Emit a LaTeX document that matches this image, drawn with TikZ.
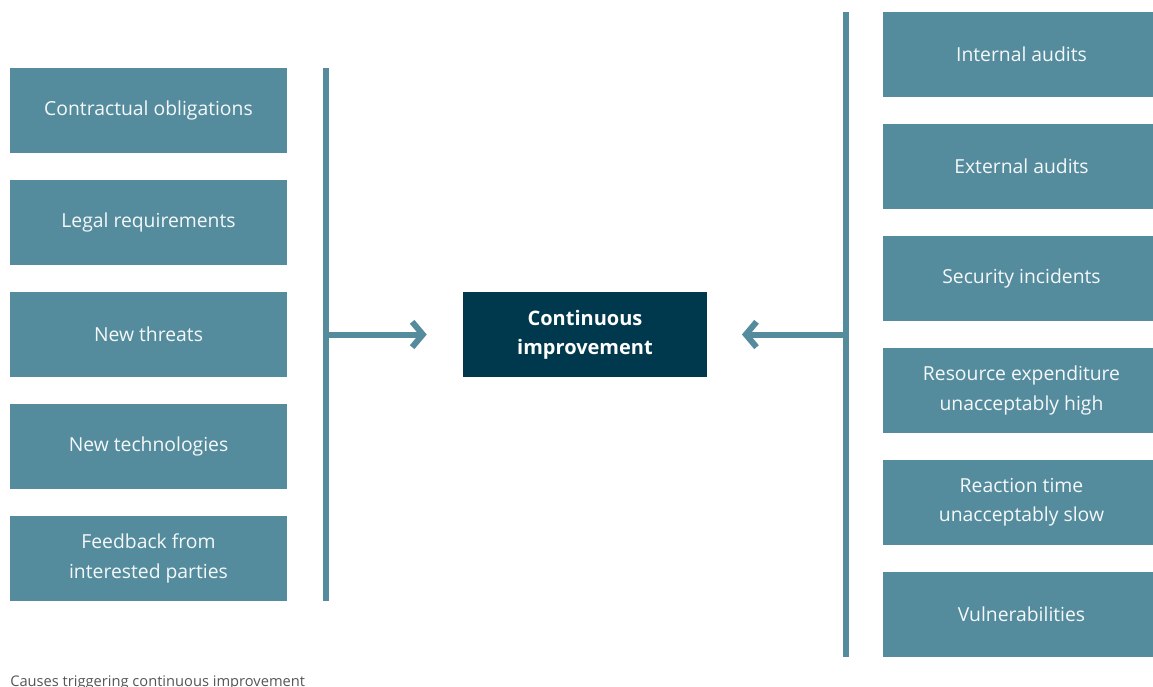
\documentclass[tikz,border=0pt]{standalone}
\usepackage{fontspec}
\setmainfont{Open Sans}
\usetikzlibrary{arrows.meta}
\definecolor{boxteal}{HTML}{548C9E}
\definecolor{navy}{HTML}{00384D}
\definecolor{captiongray}{HTML}{555555}
\tikzset{
  cause/.style={fill=boxteal,text=white!94!boxteal,minimum width=207.75pt,
    minimum height=63.75pt,align=center,inner sep=0pt,
    font=\fontsize{14.5}{22}\selectfont},
  goal/.style={fill=navy,text=white,minimum width=183pt,minimum height=63.75pt,
    align=center,inner sep=0pt,font=\fontsize{15}{22}\selectfont\bfseries},
  bar/.style={draw=boxteal,line width=4.5pt},
  feed/.style={draw=boxteal,line width=4.5pt,
    -{Straight Barb[length=8pt,width=19pt,line width=4.5pt]}}
}
\begin{document}
\begin{tikzpicture}[x=0.75pt,y=-0.75pt]
  \useasboundingbox (0,0) rectangle (1153,686);
  % left causes
  \foreach \i/\txt in {1/Contractual obligations,2/Legal requirements,
    3/New threats,4/New technologies,5/{Feedback from\\interested parties}}
    \node[cause] (l\i) at (148.5,{110.5+112*(\i-1)}) {\txt};
  % right causes
  \foreach \i/\txt in {1/Internal audits,2/External audits,3/Security incidents,
    4/{Resource expenditure\\unacceptably high},5/{Reaction time\\unacceptably slow},
    6/Vulnerabilities}
    \node[cause] (r\i) at (1021.5,{54.5+112*(\i-1)}) {\txt};
  \node[goal] (ci) at (585,334.5) {Continuous\\improvement};
  % collecting bars
  \draw[bar] (326,68) -- (326,601);
  \draw[bar] (846,12) -- (846,657);
  \coordinate (lbar) at (326,334.5);
  \coordinate (rbar) at (846,334.5);
  \draw[feed,shorten >=27pt] (lbar) -- (ci.west);
  \draw[feed,shorten >=26pt] (rbar) -- (ci.east);
  \node[anchor=base west,inner sep=0pt,text=captiongray,font=\fontsize{11}{12}\selectfont]
    (cap) at (10,686) {Causes triggering continuous improvement};
\end{tikzpicture}
\end{document}
